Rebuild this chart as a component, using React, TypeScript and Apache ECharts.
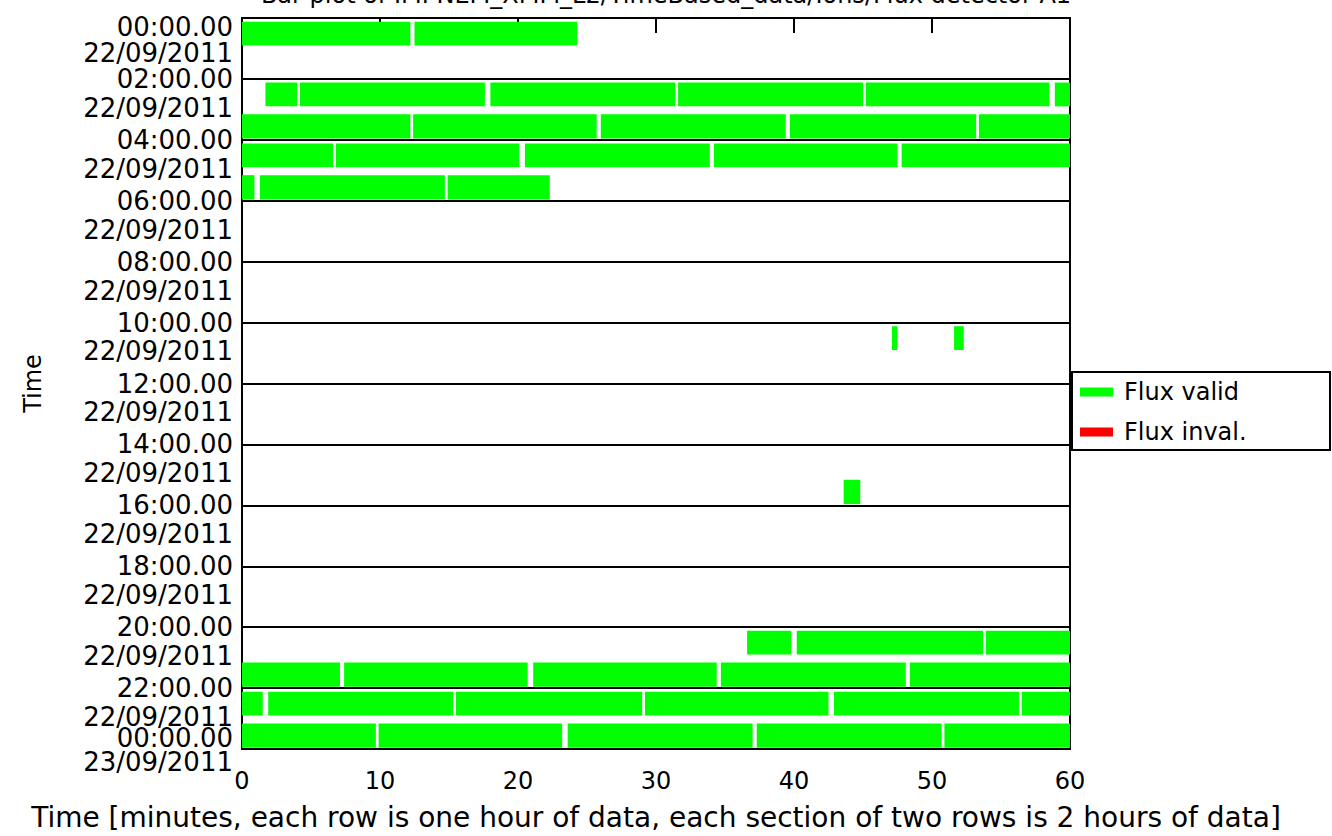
import React, { useEffect, useRef } from "react";
import * as echarts from "echarts";

// Minute axis (each row = one hour)
const minuteMin = 0;
const minuteMax = 60;
const minuteStep = 10;

// Row boundaries every 2 hours (value = hour index from 22/09/2011 00:00)
const hourTickTimes = [
  "00:00.00", "02:00.00", "04:00.00", "06:00.00", "08:00.00", "10:00.00", "12:00.00",
  "14:00.00", "16:00.00", "18:00.00", "20:00.00", "22:00.00", "00:00.00",
];
const hourTickDates = [
  "22/09/2011", "22/09/2011", "22/09/2011", "22/09/2011", "22/09/2011", "22/09/2011", "22/09/2011",
  "22/09/2011", "22/09/2011", "22/09/2011", "22/09/2011", "22/09/2011", "23/09/2011",
];

// Valid flux segments: [row (hour), start minute, end minute]
const validSegments: [number, number, number][] = [
  [0, 0, 12.2], [0, 12.5, 24.3],
  [2, 1.7, 4.0], [2, 4.2, 17.6], [2, 18.0, 31.4], [2, 31.6, 45.0], [2, 45.2, 58.5], [2, 58.9, 60],
  [3, 0, 12.2], [3, 12.4, 25.7], [3, 26.0, 39.4], [3, 39.7, 53.2], [3, 53.4, 60],
  [4, 0, 6.6], [4, 6.8, 20.1], [4, 20.5, 33.9], [4, 34.2, 47.5], [4, 47.8, 60],
  [5, 0, 0.9], [5, 1.3, 14.7], [5, 14.9, 22.3],
  [10, 47.1, 47.5], [10, 51.6, 52.3],
  [15, 43.6, 44.8],
  [20, 36.6, 39.8], [20, 40.2, 53.7], [20, 53.9, 60],
  [21, 0, 7.1], [21, 7.4, 20.7], [21, 21.1, 34.4], [21, 34.7, 48.1], [21, 48.4, 60],
  [22, 0, 1.5], [22, 1.9, 15.3], [22, 15.5, 29.0], [22, 29.2, 42.5], [22, 42.9, 56.3], [22, 56.5, 60],
  [23, 0, 9.7], [23, 9.9, 23.2], [23, 23.6, 37.0], [23, 37.3, 50.7], [23, 50.9, 60],
];

// Invalid flux segments (none in this period)
const invalidSegments: [number, number, number][] = [];

const seriesNames = ["Flux valid", "Flux inval."];
const seriesColors = ["#00ff00", "#ff0000"];

const titleText = "Bar plot of IMI NEM_XMM_L2/TimeBased_data/Ions/Flux detector A1";
const xAxisTitle =
  "Time [minutes, each row is one hour of data, each section of two rows is 2 hours of data]";
const yAxisTitle = "Time";

export default function App() {
  const ref = useRef<HTMLDivElement>(null);

  useEffect(() => {
    if (!ref.current) return;
    const chart = echarts.init(ref.current, null, { renderer: "svg" });
    const font = "DejaVu Sans";
    const lastIdx = hourTickTimes.length - 1;

    // label placement (axis units): time label on the boundary, date just below;
    // first/last kept inside the plot frame as in the original
    const timeLabelValues = hourTickTimes.map((_, i) =>
      i === 0 ? 0.3 : i === lastIdx ? 2 * i - 0.36 : 2 * i
    );
    const dateLabelValues = hourTickDates.map((_, i) =>
      i === 0 ? 0.72 : i === lastIdx ? 2 * i : 2 * i + 0.52
    );
    const timeIdx = (v: number) => Math.max(0, Math.min(lastIdx, Math.round(v / 2)));
    const dateIdx = (v: number) => Math.max(0, Math.min(lastIdx, Math.round((v - 0.3) / 2)));

    const renderSeg = (params: any, api: any) => {
      const row = api.value(0);
      const s = api.value(1);
      const e = api.value(2);
      const odd = row % 2 === 1;
      const y0 = row + (odd ? 0.16 : 0.12);
      const y1 = row + (odd ? 0.96 : 0.9);
      const p0 = api.coord([s, y0]);
      const p1 = api.coord([e, y1]);
      return {
        type: "rect",
        shape: { x: p0[0], y: p0[1], width: p1[0] - p0[0], height: p1[1] - p0[1] },
        style: { fill: api.visual("color") },
      };
    };

    const baseY = {
      type: "value",
      min: 0,
      max: 24,
      interval: 2,
      inverse: true,
      position: "left",
      axisTick: { show: false },
    };
    const labelText = { fontFamily: font, fontSize: 26, lineHeight: 26, color: "#000" };

    const option: any = {
      animation: false,
      backgroundColor: "#ffffff",
      textStyle: { fontFamily: font, color: "#000" },
      title: {
        text: titleText,
        left: "center",
        top: -22,
        textStyle: { fontFamily: font, fontSize: 24, fontWeight: "normal", color: "#000" },
      },
      grid: {
        left: 242,
        right: 262,
        top: 18,
        bottom: 83,
        show: true,
        borderColor: "#000",
        borderWidth: 2,
        backgroundColor: "transparent",
      },
      legend: {
        orient: "vertical",
        left: 1080,
        top: 380,
        padding: 0,
        itemWidth: 33,
        itemHeight: 9,
        itemGap: 16,
        icon: "rect",
        data: seriesNames,
        textStyle: { fontFamily: font, fontSize: 24, lineHeight: 24, color: "#000", padding: [0, 0, 0, 6] },
      },
      graphic: [
        {
          type: "rect",
          shape: { x: 1072, y: 372, width: 258, height: 78 },
          style: { fill: "none", stroke: "#000", lineWidth: 2 },
          z: 10,
        },
      ],
      xAxis: [
        {
          type: "value",
          min: minuteMin,
          max: minuteMax,
          interval: minuteStep,
          position: "bottom",
          name: xAxisTitle,
          nameLocation: "middle",
          nameGap: 54,
          nameTextStyle: { fontFamily: font, fontSize: 28, color: "#000" },
          axisLine: { show: true, lineStyle: { color: "#000", width: 2 } },
          axisTick: { show: false },
          axisLabel: { fontFamily: font, fontSize: 24, color: "#000", margin: 20 },
          splitLine: { show: false },
        },
        {
          type: "value",
          min: minuteMin,
          max: minuteMax,
          interval: minuteStep,
          position: "top",
          axisLine: { show: true, lineStyle: { color: "#000", width: 2 } },
          axisTick: { show: true, inside: true, length: 15, lineStyle: { color: "#000", width: 2 } },
          axisLabel: { show: false },
          splitLine: { show: false },
        },
      ],
      yAxis: [
        {
          ...baseY,
          name: yAxisTitle,
          nameLocation: "middle",
          nameGap: 197,
          nameTextStyle: { fontFamily: font, fontSize: 24, color: "#000" },
          axisLine: { show: true, lineStyle: { color: "#000", width: 2 } },
          splitLine: { show: true, lineStyle: { color: "#000", width: 2 } },
          axisLabel: { show: false },
        },
        {
          ...baseY,
          axisLine: { show: false },
          splitLine: { show: false },
          axisLabel: {
            margin: 9,
            showMinLabel: true,
            showMaxLabel: true,
            verticalAlign: "middle",
            customValues: timeLabelValues,
            formatter: (v: number) => hourTickTimes[timeIdx(v)],
            ...labelText,
          },
        },
        {
          ...baseY,
          axisLine: { show: false },
          splitLine: { show: false },
          axisLabel: {
            margin: 9,
            showMinLabel: true,
            showMaxLabel: true,
            verticalAlign: "top",
            customValues: dateLabelValues,
            formatter: (v: number) => hourTickDates[dateIdx(v)],
            ...labelText,
          },
        },
      ],
      series: [
        {
          name: seriesNames[0],
          type: "custom",
          renderItem: renderSeg,
          xAxisIndex: 0,
          yAxisIndex: 0,
          encode: { x: [1, 2], y: 0 },
          itemStyle: { color: seriesColors[0] },
          data: validSegments,
          z: 2,
        },
        {
          name: seriesNames[1],
          type: "custom",
          renderItem: renderSeg,
          xAxisIndex: 0,
          yAxisIndex: 0,
          encode: { x: [1, 2], y: 0 },
          itemStyle: { color: seriesColors[1] },
          data: invalidSegments,
          z: 2,
        },
      ],
    };

    chart.setOption(option);
    return () => chart.dispose();
  }, []);

  return (
    <div
      ref={ref}
      style={{ position: "fixed", left: 0, top: 0, width: 1332, height: 836, background: "#fff" }}
    />
  );
}
